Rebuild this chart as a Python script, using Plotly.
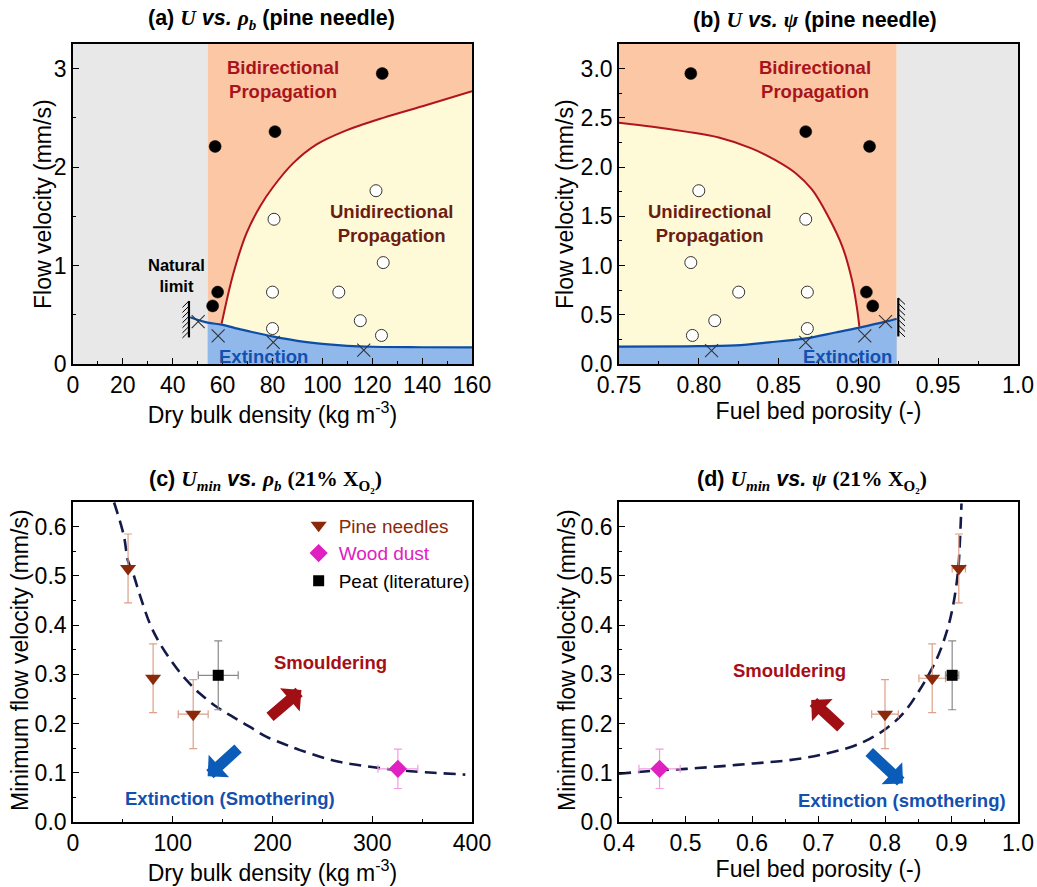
import plotly.graph_objects as go

# ---------------- Panel (a): U vs. rho_b ----------------
rho_bidir = [124, 81, 57, 58, 56]
U_bidir_a = [2.95, 2.36, 2.21, 0.73, 0.59]
rho_unidir = [121.5, 80.6, 124.4, 80, 106.6, 115.2, 80, 123.7]
U_unidir_a = [1.76, 1.47, 1.03, 0.73, 0.73, 0.44, 0.36, 0.29]
rho_ext = [50.2, 58.2, 80.3, 116.6]
U_ext_a = [0.43, 0.285, 0.22, 0.14]

rho_red = [59.6, 64.3, 69.6, 75, 80.3, 88.3, 97.7, 108.4, 124.4, 141.8, 160]
U_red_a = [0.41, 0.92, 1.33, 1.60, 1.80, 2.04, 2.23, 2.36, 2.50, 2.63, 2.77]
rho_blue = [47, 54, 59.6, 65, 71, 80, 90, 100, 110, 120, 140, 160]
U_blue_a = [0.475, 0.42, 0.40, 0.365, 0.33, 0.28, 0.235, 0.205, 0.185, 0.175, 0.17, 0.168]
rho_limit = 54
rho_natural = 46.5
rho_max = 160

# ---------------- Panel (b): U vs. psi ----------------
psi_bidir = [0.795, 0.867, 0.907, 0.905, 0.909]
U_bidir_b = [2.95, 2.36, 2.21, 0.73, 0.59]
psi_unidir = [0.800, 0.867, 0.795, 0.825, 0.868, 0.810, 0.868, 0.796]
U_unidir_b = [1.76, 1.47, 1.03, 0.73, 0.73, 0.44, 0.36, 0.29]
psi_ext = [0.808, 0.867, 0.904, 0.917]
U_ext_b = [0.135, 0.22, 0.285, 0.43]

psi_red = [0.75, 0.771, 0.792, 0.8125, 0.833, 0.848, 0.8605, 0.871, 0.881, 0.890, 0.896, 0.899, 0.9006]
U_red_b = [2.45, 2.41, 2.36, 2.30, 2.19, 2.07, 1.94, 1.77, 1.50, 1.19, 0.85, 0.58, 0.38]
psi_blue = [0.75, 0.792, 0.823, 0.844, 0.867, 0.8856, 0.9006, 0.917, 0.924]
U_blue_b = [0.176, 0.18, 0.19, 0.22, 0.26, 0.32, 0.37, 0.43, 0.46]
psi_min = 0.75
psi_limit = 0.924
psi_natural = 0.925

# ---------------- Panels (c), (d): U_min ----------------
pine_rho = [55.2, 80.3, 120.5]
pine_rho_err = [0, 0, 15]
pine_psi = [0.911, 0.871, 0.800]
pine_psi_err = [0.01, 0.02, 0.02]
pine_Umin = [0.515, 0.292, 0.219]
pine_Umin_err = [0.07, 0.07, 0.07]

wood_rho = [325.7]
wood_rho_err = [20]
wood_psi = [0.461]
wood_psi_err = [0.031]
wood_Umin = [0.108]
wood_Umin_err = [0.04]

peat_rho = [145.6]
peat_rho_err = [20]
peat_psi = [0.901]
peat_psi_err = [0.01]
peat_Umin = [0.298]
peat_Umin_err = [0.07]

fit_rho = [41.2, 50.9, 55.2, 60.2, 66.9, 77, 87, 100.4, 113.8, 127.2, 143.9, 160.7, 177.4,
           194.1, 210.9, 227.6, 261, 294.5, 328, 361.5, 393.3]
fit_rho_U = [0.649, 0.582, 0.53, 0.505, 0.462, 0.403, 0.363, 0.322, 0.288, 0.261, 0.234, 0.213, 0.193,
             0.173, 0.159, 0.146, 0.125, 0.113, 0.105, 0.100, 0.0963]
fit_psi = [0.4, 0.451, 0.501, 0.551, 0.602, 0.652, 0.702, 0.752, 0.777, 0.802, 0.827, 0.852,
           0.877, 0.892, 0.902, 0.910, 0.913, 0.915]
fit_psi_U = [0.098, 0.104, 0.108, 0.113, 0.119, 0.125, 0.136, 0.154, 0.169, 0.19, 0.22, 0.268,
             0.329, 0.383, 0.437, 0.512, 0.58, 0.647]

# ---------------- styles ----------------
FONT = "Arial, Liberation Sans, sans-serif"
SERIF = "Liberation Serif, DejaVu Serif, serif"
C_GRAY = "#e8e8e8"
C_PEACH = "#fbc7a5"
C_YELLOW = "#fefad7"
C_BLUE = "#90b8ea"
C_RED_LINE = "#b0141c"
C_BLUE_LINE = "#0c4ea6"
C_BIDIR_TXT = "#a8141c"
C_UNI_TXT = "#6b1d14"
C_EXT_TXT = "#1450b0"
C_PINE = "#8b2a0a"
C_PINE_ERR = "#dda08a"
C_WOOD = "#e020c0"
C_WOOD_ERR = "#f39be3"
C_FIT = "#141a48"
W, H = 1037, 887

fig = go.Figure()


def region_traces(xa, ya, x_lo, x_hi, blue_x, blue_y, red_x, red_y):
    fig.add_trace(go.Scatter(x=[x_lo, x_hi], y=[0, 0], xaxis=xa, yaxis=ya, mode="lines",
                             line=dict(width=0), hoverinfo="skip", showlegend=False))
    bx = [x for x in blue_x if x_lo <= x <= x_hi]
    by = [y for x, y in zip(blue_x, blue_y) if x_lo <= x <= x_hi]
    fig.add_trace(go.Scatter(x=bx, y=by, xaxis=xa, yaxis=ya, mode="lines", fill="tonexty",
                             fillcolor=C_BLUE, line=dict(width=0, shape="spline"),
                             hoverinfo="skip", showlegend=False))
    rlo, rhi = min(red_x), max(red_x)
    ux = [x for x in blue_x if rlo <= x <= rhi]
    uy = [y for x, y in zip(blue_x, blue_y) if rlo <= x <= rhi]
    fig.add_trace(go.Scatter(x=ux, y=uy, xaxis=xa, yaxis=ya, mode="lines",
                             line=dict(width=0, shape="spline"), hoverinfo="skip", showlegend=False))
    fig.add_trace(go.Scatter(x=red_x, y=red_y, xaxis=xa, yaxis=ya, mode="lines", fill="tonexty",
                             fillcolor=C_YELLOW, line=dict(width=0, shape="spline"),
                             hoverinfo="skip", showlegend=False))
    fig.add_trace(go.Scatter(x=blue_x, y=blue_y, xaxis=xa, yaxis=ya, mode="lines",
                             line=dict(width=2.2, color=C_BLUE_LINE, shape="spline"),
                             hoverinfo="skip", showlegend=False))
    fig.add_trace(go.Scatter(x=red_x, y=red_y, xaxis=xa, yaxis=ya, mode="lines",
                             line=dict(width=2, color=C_RED_LINE, shape="spline"),
                             hoverinfo="skip", showlegend=False))


def point_traces(xa, ya, xb, yb, xu, yu, xe, ye):
    fig.add_trace(go.Scatter(x=xe, y=ye, xaxis=xa, yaxis=ya, mode="markers",
                             marker=dict(symbol="x-thin-open", size=13, color="#333333",
                                         line=dict(width=1.1, color="#333333")),
                             showlegend=False))
    fig.add_trace(go.Scatter(x=xu, y=yu, xaxis=xa, yaxis=ya, mode="markers",
                             marker=dict(symbol="circle", size=12, color="white",
                                         line=dict(width=1, color="#333333")), showlegend=False))
    fig.add_trace(go.Scatter(x=xb, y=yb, xaxis=xa, yaxis=ya, mode="markers",
                             marker=dict(symbol="circle", size=12, color="black",
                                         line=dict(width=0.5, color="black")), showlegend=False))


region_traces("x", "y", rho_limit, rho_max, rho_blue, U_blue_a, rho_red, U_red_a)
point_traces("x", "y", rho_bidir, U_bidir_a, rho_unidir, U_unidir_a, rho_ext, U_ext_a)
region_traces("x2", "y2", psi_min, psi_limit, psi_blue, U_blue_b, psi_red, U_red_b)
point_traces("x2", "y2", psi_bidir, U_bidir_b, psi_unidir, U_unidir_b, psi_ext, U_ext_b)


def umin_traces(xa, ya, fx, fy, px, pxe, wx, wxe, qx, qxe, legend):
    fig.add_trace(go.Scatter(x=fx, y=fy, xaxis=xa, yaxis=ya, mode="lines",
                             line=dict(color=C_FIT, width=2.6, dash="12px,7px", shape="spline"),
                             hoverinfo="skip", showlegend=False))
    fig.add_trace(go.Scatter(
        x=px, y=pine_Umin, xaxis=xa, yaxis=ya, mode="markers",
        name=f'<span style="color:{C_PINE}">Pine needles</span>', showlegend=legend,
        marker=dict(symbol="triangle-down", size=14, color=C_PINE),
        error_y=dict(type="data", array=pine_Umin_err, color=C_PINE_ERR, thickness=1.2, width=4),
        error_x=dict(type="data", array=pxe, color=C_PINE_ERR, thickness=1.2, width=4)))
    fig.add_trace(go.Scatter(
        x=wx, y=wood_Umin, xaxis=xa, yaxis=ya, mode="markers",
        name=f'<span style="color:{C_WOOD}">Wood dust</span>', showlegend=legend,
        marker=dict(symbol="diamond", size=14, color=C_WOOD),
        error_y=dict(type="data", array=wood_Umin_err, color=C_WOOD_ERR, thickness=1.2, width=4),
        error_x=dict(type="data", array=wxe, color=C_WOOD_ERR, thickness=1.2, width=4)))
    fig.add_trace(go.Scatter(
        x=qx, y=peat_Umin, xaxis=xa, yaxis=ya, mode="markers",
        name='<span style="color:black">Peat (literature)</span>', showlegend=legend,
        marker=dict(symbol="square", size=11, color="black"),
        error_y=dict(type="data", array=peat_Umin_err, color="#8a8a8a", thickness=1.2, width=4),
        error_x=dict(type="data", array=qxe, color="#8a8a8a", thickness=1.2, width=4)))


umin_traces("x3", "y3", fit_rho, fit_rho_U, pine_rho, pine_rho_err, wood_rho, wood_rho_err,
            peat_rho, peat_rho_err, True)
umin_traces("x4", "y4", fit_psi, fit_psi_U, pine_psi, pine_psi_err, wood_psi, wood_psi_err,
            peat_psi, peat_psi_err, False)

# ---------------- background regions & natural limit ----------------
shapes = [
    dict(type="rect", xref="x", yref="y", x0=0, x1=rho_limit, y0=0, y1=3.25, fillcolor=C_GRAY,
         line=dict(width=0), layer="below"),
    dict(type="rect", xref="x", yref="y", x0=rho_limit, x1=rho_max, y0=0, y1=3.25, fillcolor=C_PEACH,
         line=dict(width=0), layer="below"),
    dict(type="rect", xref="x2", yref="y2", x0=psi_min, x1=psi_limit, y0=0, y1=3.25, fillcolor=C_PEACH,
         line=dict(width=0), layer="below"),
    dict(type="rect", xref="x2", yref="y2", x0=psi_limit, x1=1.0, y0=0, y1=3.25, fillcolor=C_GRAY,
         line=dict(width=0), layer="below"),
]
lim_lo_a, lim_hi_a = 0.27, 0.64
lim_lo_b, lim_hi_b = 0.28, 0.67
shapes.append(dict(type="line", xref="x", yref="y", x0=rho_natural, x1=rho_natural, y0=lim_lo_a,
                   y1=lim_hi_a, line=dict(color="black", width=2.2)))
shapes.append(dict(type="line", xref="x2", yref="y2", x0=psi_natural, x1=psi_natural, y0=lim_lo_b,
                   y1=lim_hi_b, line=dict(color="black", width=2.2)))
n_hatch = 7
for i in range(n_hatch):
    ya_ = lim_lo_a + 0.06 + i * (lim_hi_a - lim_lo_a - 0.06) / (n_hatch - 1)
    shapes.append(dict(type="line", xref="x", yref="y", x0=rho_natural, y0=ya_,
                       x1=rho_natural - 2.6, y1=ya_ - 0.065, line=dict(color="black", width=1)))
    yb_ = lim_lo_b + 0.06 + i * (lim_hi_b - lim_lo_b - 0.06) / (n_hatch - 1)
    shapes.append(dict(type="line", xref="x2", yref="y2", x0=psi_natural, y0=yb_,
                       x1=psi_natural + 0.0042, y1=yb_ - 0.065, line=dict(color="black", width=1)))


def serif(s):
    return f'<span style="font-family:{SERIF}">{s}</span>'


def sans(s):
    return f'<span style="font-family:{FONT}">{s}</span>'


ann = []
titles = [
    (sans("(a) ") + serif("<i>U</i>") + sans(" <i>vs.</i> ") + serif("<i>ρ<sub>b</sub></i>")
     + sans(" (pine needle)"), 146, 20),
    (sans("(b) ") + serif("<i>U</i>") + sans(" <i>vs.</i> ") + serif("<i>ψ</i>")
     + sans(" (pine needle)"), 691, 20),
    (sans("(c) ") + serif("<i>U<sub>min</sub></i>") + sans(" <i>vs.</i> ") + serif("<i>ρ<sub>b</sub></i>")
     + " " + serif("(21% X<sub>O₂</sub>)"), 147, 480),
    (sans("(d) ") + serif("<i>U<sub>min</sub></i>") + sans(" <i>vs.</i> ") + serif("<i>ψ</i>") + " "
     + serif("(21% X<sub>O₂</sub>)"), 695, 480),
]
for t, x, y in titles:
    ann.append(dict(text=f"<b>{t}</b>", x=x / W, y=1 - y / H, xref="paper", yref="paper", showarrow=False,
                    font=dict(size=21.5, color="black"), xanchor="left", yanchor="middle"))

ytitles = [
    ("Flow velocity (mm/s)", 43, 204),
    ("Flow velocity (mm/s)", 565, 204),
    ("Minimum flow velocity (mm/s)", 20, 660),
    ("Minimum flow velocity (mm/s)", 567, 660),
]
for t, x, y in ytitles:
    ann.append(dict(text=t, x=x / W, y=1 - y / H, xref="paper", yref="paper", showarrow=False,
                    textangle=-90, font=dict(size=23, color="black"), xanchor="center", yanchor="middle"))


def label(text, x, y, xa, ya, color, size=18.5, xanchor="center", yanchor="middle", yshift=0):
    ann.append(dict(text=text, x=x, y=y, xref=xa, yref=ya, showarrow=False, xanchor=xanchor,
                    yanchor=yanchor, font=dict(size=size, color=color), align="center", yshift=yshift))


label("<b>Bidirectional<br>Propagation</b>", 84.3, 2.89, "x", "y", C_BIDIR_TXT)
label("<b>Unidirectional<br>Propagation</b>", 127.8, 1.43, "x", "y", C_UNI_TXT)
label("<b>Extinction</b>", 76.3, 0.0, "x", "y", C_EXT_TXT, yanchor="bottom", yshift=-5)
label("<b>Natural<br>limit</b>", 41.5, 0.9, "x", "y", "black", size=16.5)
label("<b>Bidirectional<br>Propagation</b>", 0.873, 2.89, "x2", "y2", C_BIDIR_TXT)
label("<b>Unidirectional<br>Propagation</b>", 0.807, 1.43, "x2", "y2", C_UNI_TXT)
label("<b>Extinction</b>", 0.893, 0.0, "x2", "y2", C_EXT_TXT, yanchor="bottom", yshift=-5)

label("<b>Smouldering</b>", 257.7, 0.325, "x3", "y3", "#a50f15")
label("<b>Extinction (Smothering)</b>", 157.3, 0.047, "x3", "y3", "#1450b0")
label("<b>Smouldering</b>", 0.657, 0.308, "x4", "y4", "#a50f15")
label("<b>Extinction (smothering)</b>", 0.825, 0.044, "x4", "y4", "#1450b0")

arrows = [
    ("x3", "y3", 196, 0.211, 229, 0.268, "#a00f14"),
    ("x3", "y3", 167, 0.152, 135, 0.093, "#0b5cb8"),
    ("x4", "y4", 0.736, 0.189, 0.689, 0.248, "#a00f14"),
    ("x4", "y4", 0.774, 0.145, 0.827, 0.078, "#0b5cb8"),
]
for xa, ya, x0, y0, x1, y1, col in arrows:
    ann.append(dict(x=x1, y=y1, ax=x0, ay=y0, xref=xa, yref=ya, axref=xa, ayref=ya, text="",
                    showarrow=True, arrowhead=1, arrowsize=0.46, arrowwidth=11, arrowcolor=col,
                    standoff=0, startstandoff=0))


def axis(domain, rng, dtick, minor_dtick, title, anchor, tickvals=None, ticktext=None, fmt=None):
    d = dict(domain=domain, range=rng, anchor=anchor, showline=True, linecolor="black", linewidth=1.6,
             mirror=True, ticks="inside", ticklen=6, tickwidth=1.3, tickcolor="black",
             showgrid=False, zeroline=False, tickfont=dict(size=23, color="black"), automargin=False,
             title=dict(text=title, font=dict(size=23, color="black"), standoff=4),
             minor=dict(ticks="inside", ticklen=3.5, tickwidth=1.1, tickcolor="black", dtick=minor_dtick,
                        showgrid=False))
    if tickvals is not None:
        d.update(tickmode="array", tickvals=tickvals, ticktext=ticktext)
    else:
        d.update(dtick=dtick, tick0=0)
    if fmt:
        d["tickformat"] = fmt
    return d


X_L = [73 / W, 472 / W]
X_R = [619 / W, 1018 / W]
Y_T = [1 - 364 / H, 1 - 44 / H]
Y_B = [1 - 822 / H, 1 - 502 / H]

layout = dict(
    width=W, height=H, margin=dict(l=0, r=0, t=0, b=0),
    paper_bgcolor="white", plot_bgcolor="white",
    font=dict(family=FONT, color="black"),
    xaxis=axis(X_L, [0, 160], 20, 10, "Dry bulk density (kg m<sup>-3</sup>)", "y"),
    yaxis=axis(Y_T, [0, 3.25], 1, 0.5, "", "x"),
    xaxis2=axis(X_R, [0.75, 1.0], None, 0.025, "Fuel bed porosity (-)", "y2",
                tickvals=[0.75, 0.80, 0.85, 0.90, 0.95, 1.0],
                ticktext=["0.75", "0.80", "0.85", "0.90", "0.95", "1.0"]),
    yaxis2=axis(Y_T, [0, 3.25], 0.5, 0.25, "", "x2", fmt=".1f"),
    xaxis3=axis(X_L, [0, 400], 100, 50, "Dry bulk density (kg m<sup>-3</sup>)", "y3"),
    yaxis3=axis(Y_B, [0, 0.65], 0.1, 0.05, "", "x3", fmt=".1f"),
    xaxis4=axis(X_R, [0.4, 1.0], 0.1, 0.05, "Fuel bed porosity (-)", "y4", fmt=".1f"),
    yaxis4=axis(Y_B, [0, 0.65], 0.1, 0.05, "", "x4", fmt=".1f"),
    shapes=shapes, annotations=ann,
    legend=dict(x=0.288, y=0.429, xanchor="left", yanchor="top", bgcolor="rgba(0,0,0,0)",
                font=dict(size=19), tracegroupgap=0, traceorder="normal"),
)
fig.update_layout(**layout)
fig.write_html("out.html")
